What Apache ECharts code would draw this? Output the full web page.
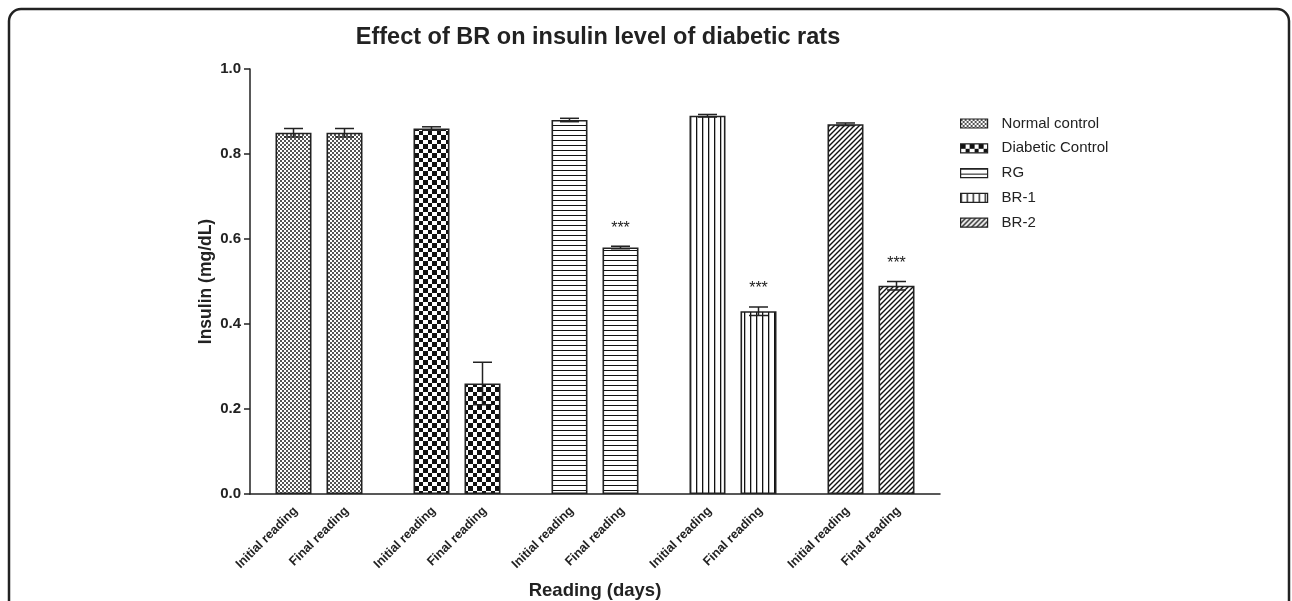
<!DOCTYPE html>
<html>
<head>
<meta charset="utf-8">
<script src="https://cdn.jsdelivr.net/npm/echarts@6/dist/echarts.min.js"></script>
<style>
html,body{margin:0;padding:0;background:#fff;}
#chart{width:1292px;height:601px;}
</style>
</head>
<body>
<div id="chart"></div>
<script>
// ---- data ----
const groups = ['Normal control', 'Diabetic Control', 'RG', 'BR-1', 'BR-2'];
const readings = ['Initial reading', 'Final reading'];
const initialMean = [0.85, 0.86, 0.88, 0.89, 0.87];
const initialSem = [0.01, 0.004, 0.004, 0.003, 0.003];
const finalMean = [0.85, 0.26, 0.58, 0.43, 0.49];
const finalSem = [0.01, 0.05, 0.003, 0.01, 0.01];
const finalSig = ['', '', '***', '***', '***'];
const yTicks = [0.0, 0.2, 0.4, 0.6, 0.8, 1.0];

// ---- styles ----
const FONT = '"Liberation Sans", Arial, Helvetica, sans-serif';
const INK = '#222';
const BAR_W = 36;
const GAP_PX = 15;

function makePattern(kind) {
  const c = document.createElement('canvas');
  let w = 4, h = 4;
  if (kind === 'fine') { w = 4; h = 4; }
  if (kind === 'checker') { w = 9; h = 9; }
  if (kind === 'hlines') { w = 4; h = 5; }
  if (kind === 'vlines') { w = 6; h = 4; }
  if (kind === 'diag') { w = 5; h = 5; }
  c.width = w; c.height = h;
  const ctx = c.getContext('2d');
  ctx.fillStyle = '#fff';
  ctx.fillRect(0, 0, w, h);
  ctx.fillStyle = '#111';
  ctx.strokeStyle = '#111';
  if (kind === 'fine') {
    ctx.fillStyle = '#555';
    ctx.fillRect(0, 0, 2, 2);
    ctx.fillRect(2, 2, 2, 2);
  } else if (kind === 'checker') {
    ctx.fillRect(0, 0, 5, 5);
    ctx.fillRect(5, 5, 4, 4);
  } else if (kind === 'hlines') {
    ctx.fillRect(0, 0, w, 1);
  } else if (kind === 'vlines') {
    ctx.fillRect(0, 0, 1.3, h);
  } else if (kind === 'diag') {
    ctx.lineWidth = 1.4;
    ctx.beginPath();
    ctx.moveTo(-1, 1); ctx.lineTo(1, -1);
    ctx.moveTo(0, h); ctx.lineTo(w, 0);
    ctx.moveTo(w - 1, h + 1); ctx.lineTo(w + 1, h - 1);
    ctx.stroke();
  }
  return { image: c, repeat: 'repeat' };
}
const patternKinds = ['fine', 'checker', 'hlines', 'vlines', 'diag'];
const patterns = patternKinds.map(makePattern);

const series = [];
groups.forEach(function (g, gi) {
  [initialMean, finalMean].forEach(function (arr, ri) {
    series.push({
      type: 'bar',
      name: g,
      stack: ri === 0 ? 'initial' : 'final',
      barWidth: BAR_W,
      barGap: (GAP_PX / BAR_W * 100).toFixed(2) + '%',
      data: groups.map(function (_, k) { return k === gi ? arr[k] : '-'; }),
      itemStyle: { color: patterns[gi], borderColor: INK, borderWidth: 1.6 },
      label: {
        show: true,
        position: 'bottom',
        distance: 17,
        rotate: 45,
        align: 'right',
        verticalAlign: 'middle',
        offset: [3, 0],
        formatter: readings[ri],
        fontFamily: FONT,
        fontWeight: 'bold',
        fontSize: 12.5,
        color: INK
      },
      emphasis: { disabled: true },
      z: 2
    });
  });
});

// error bars + significance marks
const errData = [];
groups.forEach(function (g, gi) {
  errData.push([gi, 0, initialMean[gi], initialSem[gi], '']);
  errData.push([gi, 1, finalMean[gi], finalSem[gi], finalSig[gi]]);
});
series.push({
  type: 'custom',
  name: 'errors',
  data: errData,
  z: 5,
  silent: true,
  renderItem: function (params, api) {
    const gi = api.value(0);
    const ri = api.value(1);
    const m = api.value(2);
    const s = api.value(3);
    const sig = errData[params.dataIndex][4];
    const off = (ri === 0 ? -1 : 1) * (BAR_W + GAP_PX) / 2;
    const top = api.coord([gi, m + s]);
    const bot = api.coord([gi, m - s]);
    const x = top[0] + off;
    const capHalf = 9.5;
    const st = { stroke: INK, lineWidth: 1.5 };
    const children = [
      { type: 'line', shape: { x1: x, y1: top[1], x2: x, y2: bot[1] }, style: st },
      { type: 'line', shape: { x1: x - capHalf, y1: top[1], x2: x + capHalf, y2: top[1] }, style: st },
      { type: 'line', shape: { x1: x - capHalf, y1: bot[1], x2: x + capHalf, y2: bot[1] }, style: st }
    ];
    if (sig) {
      children.push({
        type: 'text',
        style: {
          text: sig, x: x, y: top[1] - 18,
          align: 'center', verticalAlign: 'middle',
          fontFamily: FONT, fontSize: 16, fill: INK
        }
      });
    }
    return { type: 'group', children: children };
  }
});

const chart = echarts.init(document.getElementById('chart'), null, { renderer: 'canvas' });
chart.setOption({
  animation: false,
  backgroundColor: '#fff',
  title: {
    text: 'Effect of BR on insulin level of diabetic rats',
    left: 593, top: 21, textAlign: 'center',
    textStyle: { fontFamily: FONT, fontWeight: 'bold', fontSize: 23.5, color: INK }
  },
  legend: {
    orient: 'vertical',
    left: 960, top: 116,
    padding: 0,
    icon: 'rect',
    itemWidth: 27, itemHeight: 9,
    itemGap: 9.8,
    data: groups,
    selectedMode: false,
    itemStyle: { borderColor: INK, borderWidth: 1.2 },
    textStyle: { fontFamily: FONT, fontSize: 15, color: INK, padding: [0, 0, 0, 9], lineHeight: 15 }
  },
  grid: { left: 250, right: 352, top: 69, bottom: 107, containLabel: false, outerBoundsMode: 'none' },
  xAxis: {
    type: 'category',
    data: groups,
    name: 'Reading (days)',
    nameLocation: 'middle',
    nameGap: 87,
    nameMoveOverlap: false,
    nameTextStyle: { fontFamily: FONT, fontWeight: 'bold', fontSize: 18.5, color: INK },
    axisLine: { lineStyle: { color: INK, width: 1.5 } },
    axisTick: { show: false },
    axisLabel: { show: false },
    splitLine: { show: false }
  },
  yAxis: {
    type: 'value',
    min: yTicks[0], max: yTicks[yTicks.length - 1], interval: 0.2,
    name: 'Insulin (mg/dL)',
    nameLocation: 'middle',
    nameGap: 35,
    nameMoveOverlap: false,
    nameTextStyle: { fontFamily: FONT, fontWeight: 'bold', fontSize: 17.5, color: INK },
    axisLine: { show: true, lineStyle: { color: INK, width: 1.5 } },
    axisTick: { show: true, length: 6, lineStyle: { color: INK, width: 1.5 } },
    axisLabel: {
      fontFamily: FONT, fontWeight: 'bold', fontSize: 15, color: INK, margin: 9,
      formatter: function (v) { return v.toFixed(1); }
    },
    splitLine: { show: false }
  },
  graphic: [{
    type: 'rect',
    silent: true,
    shape: { x: 9, y: 9, width: 1280, height: 700, r: 12 },
    style: { fill: 'none', stroke: INK, lineWidth: 2.5 },
    z: 100
  }],
  series: series
});
</script>
</body>
</html>
